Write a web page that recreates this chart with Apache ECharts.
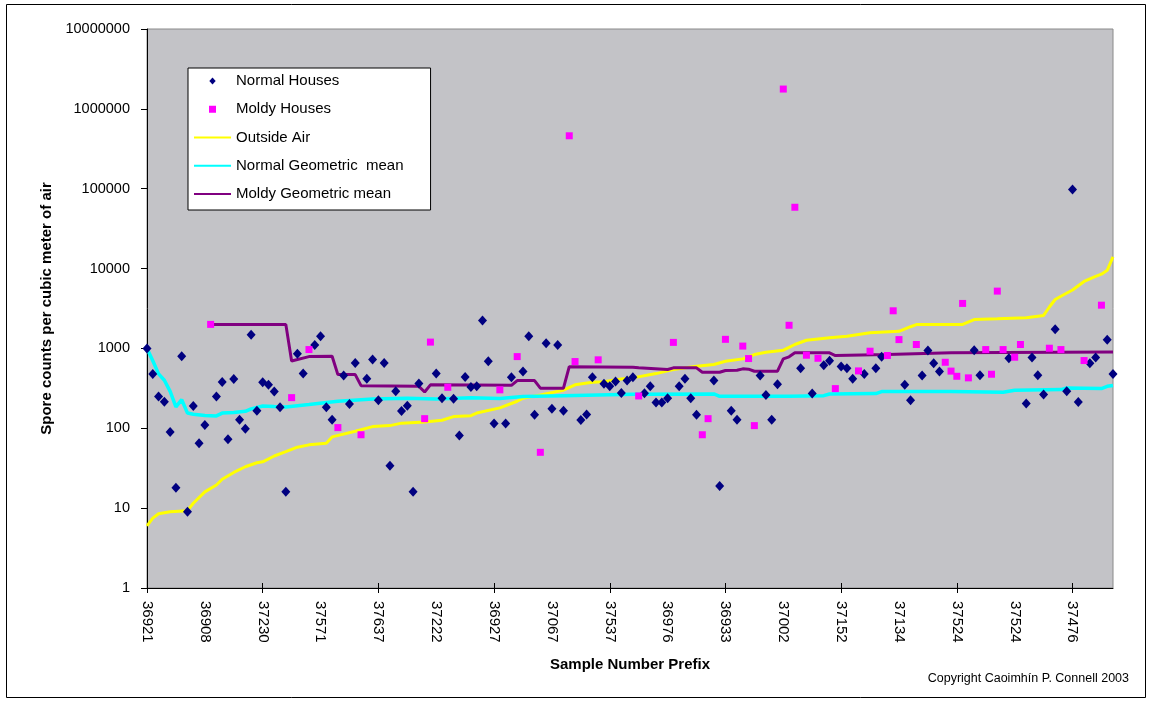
<!DOCTYPE html>
<html>
<head>
<meta charset="utf-8">
<script src="https://cdn.jsdelivr.net/npm/echarts@6/dist/echarts.min.js"></script>
<style>
  html, body { margin: 0; padding: 0; background: #ffffff; }
  #chart { width: 1153px; height: 702px; }
</style>
</head>
<body>
<div id="chart"></div>
<script>
// ---- Data ----
const tickLabels = ['36921','36908','37230','37571','37637','37222','36927','37067','37537',
                    '36976','36933','37002','37152','37134','37524','37524','37476'];
const sampleCount = 168;

// one sample per category: N = normal house, M = moldy house
const sampleGroup =
  'NNNNNNNNNN' + 'NMNNNNNNNN' + 'NNNNNMNNMN' + 'NNNMNNNMNN' + 'NNNNNNNNMM' +
  'NNMNNNNNNN' + 'NMNNMNNNMN' + 'NNNMMNNNMN' + 'NNNNNMNNNN' + 'NMNNNNMMNN' +
  'MNNMMMNNNN' + 'MMMNMNMNNM' + 'NNNMNMNNMM' + 'MNNMNNNNMM' + 'MMMNNMMMMN' +
  'MMNNNNMNMN' + 'NNMNNMNN';

const sampleValues = [
  1000, 480, 250, 215, 90, 18, 800, 9, 190, 65,
  110, 2000, 250, 380, 73, 415, 128, 99, 1480, 166,
  377, 352, 288, 183, 16, 242, 855, 484, 968, 1100,
  1420, 183, 128, 102, 457, 202, 659, 83, 416, 726,
  224, 659, 34, 290, 165, 192, 16, 363, 132, 1200,
  484, 237, 326, 235, 81, 440, 330, 335, 2240, 690,
  115, 303, 115, 435, 790, 513, 1420, 148, 50, 1160,
  176, 1100, 166, 460000, 685, 127, 149, 435, 720, 360,
  335, 384, 277, 396, 435, 254, 274, 335, 210, 210,
  237, 1190, 335, 416, 237, 148, 83, 132, 396, 19,
  1300, 166, 128, 1070, 747, 108, 457, 262, 128, 356,
  1770000, 1950, 58600, 564, 822, 272, 753, 615, 699, 314,
  593, 564, 416, 523, 480, 923, 564, 785, 815, 2960,
  1290, 352, 224, 1120, 457, 941, 652, 513, 671, 520,
  448, 3660, 428, 949, 461, 968, 475, 5220, 968, 753,
  776, 1120, 204, 769, 461, 264, 1006, 1740, 968, 290,
  98000, 214, 705, 652, 769, 3480, 1280, 480
];

// line series: [category index, value] read at visible breakpoints
const outsideAir = [
  [0,6],[1,7.5],[2,8.5],[4,9],[7,9.3],[8,11.5],[10,16],[12,19.5],[13,23],[15,28],
  [17,33],[19,37],[20,38],[22,45],[24,51],[26,58],[28,62],[31,65],[32,78],[36,92],
  [39,105],[42,108],[44,116],[48,120],[51,126],[53,140],[56,144],[57,155],[61,180],
  [64,218],[65,238],[68,262],[72,300],[74,350],[77,377],[79,382],[82,415],[84,428],
  [88,484],[91,543],[95,598],[98,628],[100,690],[103,740],[105,838],[107,895],
  [110,950],[111,1030],[112,1120],[114,1265],[118,1360],[121,1420],[125,1570],
  [130,1640],[132,1870],[133,1990],[141,2000],[143,2300],[147,2350],[152,2420],
  [155,2590],[156,3300],[157,4100],[158,4500],[160,5400],[162,6900],[164,8000],
  [165,8500],[166,9500],[167,14000]
];
const normalGeoMean = [
  [0,1000],[1,700],[2,480],[3,400],[4,290],[5,185],[6,228],[7,155],[8,150],[10,145],
  [12,143],[13,155],[15,158],[17,163],[18,175],[20,190],[22,187],[24,185],[26,192],
  [28,198],[33,218],[39,233],[45,237],[50,233],[56,242],[61,236],[65,250],[72,256],
  [84,266],[98,269],[99,251],[111,251],[117,256],[118,269],[126,272],[127,288],
  [139,288],[148,282],[150,299],[158,305],[159,320],[165,314],[166,335],[167,343]
];
const moldyGeoMean = [
  [11,2000],[24,2000],[25,696],[28,790],[32,798],[33,470],[36,470],[37,342],[47,335],
  [48,285],[49,350],[63,345],[64,396],[67,396],[68,318],[72,318],[73,590],[84,583],
  [85,571],[90,544],[91,571],[95,571],[96,503],[99,503],[100,530],[102,533],[103,555],
  [104,550],[105,518],[109,518],[110,741],[111,785],[112,880],[118,880],[119,815],
  [128,838],[139,880],[167,905]
];

const seriesNames = ['Normal Houses', 'Moldy Houses', 'Outside Air',
                     'Normal Geometric  mean', 'Moldy Geometric mean'];

// ---- Build ----
const categories = Array.from({ length: sampleCount },
  (_, i) => (i % 10 === 0 && tickLabels[i / 10]) ? tickLabels[i / 10] : '');
const normalPts = [], moldyPts = [];
sampleValues.forEach((v, i) => {
  (sampleGroup[i] === 'M' ? moldyPts : normalPts).push([i, v]);
});

const FONT = 'Arial, "Liberation Sans", sans-serif';
const hideDot = { color: 'transparent', borderColor: 'transparent', borderWidth: 0 };
const chart = echarts.init(document.getElementById('chart'), null, { renderer: 'canvas' });

chart.setOption({
  animation: false,
  backgroundColor: '#ffffff',
  textStyle: { fontFamily: FONT, color: '#000' },
  grid: {
    left: 147, right: 40, top: 29, bottom: 114,
    show: true, backgroundColor: '#c3c3c7', borderColor: '#8a8a8a', borderWidth: 1
  },
  legend: {
    left: 188, top: 68, orient: 'vertical',
    data: [
      { name: seriesNames[0], icon: 'path://M5,0L10,5.5L5,11L0,5.5Z' },
      { name: seriesNames[1], icon: 'path://M0,0L10,0L10,10L0,10Z' },
      { name: seriesNames[2], itemStyle: hideDot },
      { name: seriesNames[3], itemStyle: hideDot },
      { name: seriesNames[4], itemStyle: hideDot }
    ],
    symbolKeepAspect: true,
    itemWidth: 37, itemHeight: 7, itemGap: 12.25,
    padding: [5, 27, 8, 5],
    backgroundColor: '#ffffff', borderColor: '#000', borderWidth: 1,
    textStyle: { fontFamily: FONT, fontSize: 15, lineHeight: 16, color: '#000' }
  },
  xAxis: [{
    type: 'category', data: categories, boundaryGap: false,
    name: 'Sample Number Prefix', nameLocation: 'middle', nameGap: 69,
    nameTextStyle: { fontFamily: FONT, fontSize: 15, fontWeight: 'bold', color: '#000' },
    axisLine: { lineStyle: { color: '#000', width: 1 } },
    axisTick: { interval: 19, length: 5, lineStyle: { color: '#000' } },
    axisLabel: { interval: 9, rotate: -90, margin: 13, fontSize: 15, color: '#000', fontFamily: FONT },
    splitLine: { show: false }
  }, {
    type: 'category', data: categories, boundaryGap: false, position: 'bottom',
    axisLine: { show: false },
    axisTick: { interval: 19, inside: true, length: 5, lineStyle: { color: '#000' } },
    axisLabel: { show: false }, splitLine: { show: false }
  }],
  yAxis: {
    type: 'log', logBase: 10, min: 1, max: 10000000, splitNumber: 7,
    name: 'Spore counts per cubic meter of air', nameLocation: 'middle', nameGap: 93,
    nameTextStyle: { fontFamily: FONT, fontSize: 15, fontWeight: 'bold', color: '#000' },
    axisLine: { show: true, lineStyle: { color: '#000', width: 1 } },
    axisTick: { show: true, length: 6, lineStyle: { color: '#000' } },
    axisLabel: { margin: 17, fontSize: 14.5, color: '#000', fontFamily: FONT,
                 formatter: v => String(Math.round(v)) },
    splitLine: { show: false }, minorTick: { show: false }
  },
  series: [
    { name: seriesNames[2], type: 'line', data: outsideAir, symbol: 'none', z: 2,
      lineStyle: { color: '#ffff00', width: 3 }, itemStyle: { color: '#ffff00' } },
    { name: seriesNames[3], type: 'line', data: normalGeoMean, symbol: 'none', z: 2,
      lineStyle: { color: '#00ffff', width: 3.5 }, itemStyle: { color: '#00ffff' } },
    { name: seriesNames[4], type: 'line', data: moldyGeoMean, symbol: 'none', z: 2,
      lineStyle: { color: '#800080', width: 3 }, itemStyle: { color: '#800080' } },
    { name: seriesNames[0], type: 'scatter', data: normalPts, symbol: 'diamond',
      symbolSize: [9, 10], symbolKeepAspect: true, z: 3, itemStyle: { color: '#000080', opacity: 1 } },
    { name: seriesNames[1], type: 'scatter', data: moldyPts, symbol: 'rect',
      symbolSize: 7, symbolKeepAspect: true, z: 3, itemStyle: { color: '#ff00ff', opacity: 1 } }
  ],
  graphic: [
    { type: 'rect', shape: { x: 6.5, y: 4.5, width: 1139, height: 693 }, silent: true,
      style: { fill: 'none', stroke: '#000', lineWidth: 1 } },
    { type: 'text', x: 1129, y: 679, silent: true,
      style: { text: 'Copyright Caoimh\u00edn P. Connell 2003', fill: '#000',
               font: '12.5px ' + FONT, textAlign: 'right', textVerticalAlign: 'middle' } }
  ]
});
</script>
</body>
</html>
